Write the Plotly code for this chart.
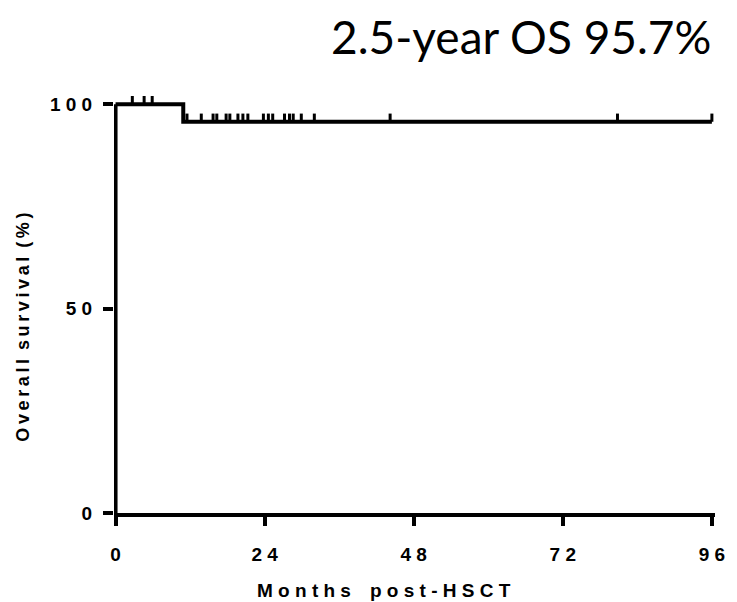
import plotly.graph_objects as go

# ---- data ----
event_times = [0, 10.9]            # months: start, death
event_surv = [100, 95.7]           # survival (%) after each step
followup_end = 96                  # last follow-up (months)
censor_times = [2.7, 4.6, 5.9, 11.5, 13.8, 15.7, 16.3, 17.8, 18.4, 19.7,
                20.5, 21.3, 23.8, 24.6, 25.3, 27.2, 28.0, 28.6, 29.9, 32.0,
                44.2, 80.8, 96.0]
x_ticks = [0, 24, 48, 72, 96]
y_ticks = [0, 50, 100]
title_text = "2.5-year OS 95.7%"
x_title = "Months post-HSCT"
y_title = "Overall survival (%)"

# ---- styling helpers ----
TICK_H = 2.0  # censor tick height in % units
FONT = "Arial, Liberation Sans, sans-serif"


def spaced(s, gap=" ", word_gap="\u2003"):
    words = s.split(" ")
    return word_gap.join(gap.join(list(w)) for w in words)


def bold(s):
    return "<b>" + s + "</b>"


def surv_at(t):
    s = event_surv[0]
    for et, es in zip(event_times, event_surv):
        if t >= et:
            s = es
    return s


curve_x = list(event_times) + [followup_end]
curve_y = list(event_surv) + [event_surv[-1]]

cx, cy = [], []
for t in censor_times:
    s = surv_at(t)
    cx += [t, t, None]
    cy += [s, s + TICK_H, None]

fig = go.Figure()
fig.add_trace(go.Scatter(x=curve_x, y=curve_y, mode="lines", line_shape="hv",
                         line=dict(color="black", width=4), hoverinfo="skip"))
fig.add_trace(go.Scatter(x=cx, y=cy, mode="lines",
                         line=dict(color="black", width=3), hoverinfo="skip"))
# y-axis spine spanning the tick range
fig.add_trace(go.Scatter(x=[x_ticks[0], x_ticks[0]], y=[y_ticks[0], y_ticks[-1]],
                         mode="lines", line=dict(color="black", width=4),
                         hoverinfo="skip"))

tick_font = dict(family=FONT, size=19, color="black")

fig.update_layout(
    width=737, height=602,
    margin=dict(l=114, r=18, t=96, b=89),
    paper_bgcolor="white", plot_bgcolor="white",
    showlegend=False,
    xaxis=dict(range=[-0.25, 96.5], tickvals=x_ticks,
               ticktext=[bold(spaced(str(v))) for v in x_ticks],
               ticks="outside", ticklen=9, tickwidth=4, tickcolor="black",
               showline=True, linewidth=4, linecolor="black",
               showgrid=False, zeroline=False, tickfont=tick_font,
               ticklabelstandoff=12),
    yaxis=dict(range=[0, 102], tickvals=y_ticks,
               ticktext=[bold(spaced(str(v))) for v in y_ticks],
               ticks="outside", ticklen=10, tickwidth=4, tickcolor="black",
               showline=False, showgrid=False, zeroline=False,
               tickfont=tick_font, ticklabelstandoff=7),
    annotations=[
        dict(text=title_text, xref="paper", yref="paper",
             x=0.997, y=1.142, xanchor="right", yanchor="middle",
             showarrow=False,
             font=dict(family="Lato", size=46, color="black")),
        dict(text=bold(spaced(x_title)), xref="paper", yref="paper",
             x=0.4496, y=-0.1847, xanchor="center", yanchor="middle",
             showarrow=False, font=dict(family=FONT, size=19, color="black")),
        dict(text=bold(spaced(y_title, gap="\u2009", word_gap="\u2002")),
             xref="paper", yref="paper", textangle=-90,
             x=-0.152, y=0.446, xanchor="center", yanchor="middle",
             showarrow=False, font=dict(family=FONT, size=18, color="black")),
    ],
)

fig.write_html("out.html")
